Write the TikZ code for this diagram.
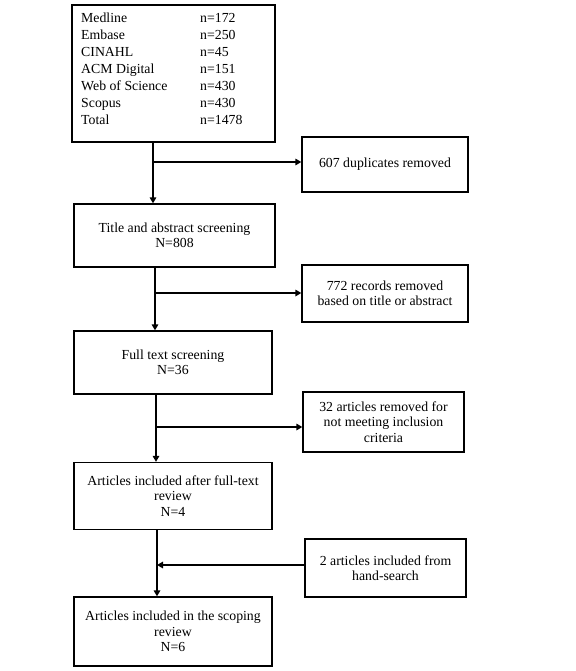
\documentclass[tikz,border=0pt]{standalone}
\usepackage{fontspec}
\setmainfont{Liberation Serif}
\usetikzlibrary{arrows.meta,calc}
\begin{document}
\begin{tikzpicture}[x=1pt,y=-1pt,
  box/.style={draw=black,line width=1.3pt,inner sep=2pt,align=center,
    font=\fontsize{13.8}{15.5}\selectfont},
  arr/.style={line width=2.2pt,-{Triangle[length=6pt,width=6.5pt]}}]
\useasboundingbox (0,0) rectangle (575,671);
% boxes
\node[box,minimum width=203pt,minimum height=137pt] (db) at (173.5,73.5) {};
\node[anchor=north west,inner sep=0pt,font=\fontsize{13.8}{17}\selectfont] (dbtext) at (81,10)
  {\begin{tabular}{@{}p{119pt}@{}l@{}}
   Medline & n=172\\
   Embase & n=250\\
   CINAHL & n=45\\
   ACM Digital & n=151\\
   Web of Science & n=430\\
   Scopus & n=430\\
   Total & n=1478
   \end{tabular}};
\node[box,minimum width=166pt,minimum height=55pt] (dup) at (385,164.5) {607 duplicates removed};
\node[box,minimum width=201pt,minimum height=63pt] (title) at (174.5,235.5) {Title and abstract screening\\N=808};
\node[box,minimum width=166pt,minimum height=57pt] (rec) at (385,293.5) {772 records removed\\based on title or abstract};
\node[box,minimum width=198pt,minimum height=63pt] (full) at (173,362.5) {Full text screening\\N=36};
\node[box,minimum width=161pt,minimum height=60pt] (excl) at (383.5,422) {32 articles removed for\\not meeting inclusion\\criteria};
\node[box,minimum width=198pt,minimum height=67pt] (after) at (173,496) {Articles included after full-text\\review\\N=4};
\node[box,minimum width=161pt,minimum height=58pt] (hand) at (385.5,568) {2 articles included from\\hand-search};
\node[box,minimum width=198pt,minimum height=69pt] (final) at (173,631.5) {Articles included in the scoping\\review\\N=6};
% junctions
\coordinate (j1) at (153,162);
\coordinate (j2) at (155,293);
\coordinate (j3) at (156,427);
\coordinate (j4) at (157,565);
% connectors
\draw[arr] (j1 |- db.south) -- (j1 |- title.north);
\draw[arr] (j1) -- (j1 -| dup.west);
\draw[arr] (j2 |- title.south) -- (j2 |- full.north);
\draw[arr] (j2) -- (j2 -| rec.west);
\draw[arr] (j3 |- full.south) -- (j3 |- after.north);
\draw[arr] (j3) -- (j3 -| excl.west);
\draw[arr] (j4 |- after.south) -- (j4 |- final.north);
\draw[arr] (j4 -| hand.west) -- (j4);
\end{tikzpicture}
\end{document}
